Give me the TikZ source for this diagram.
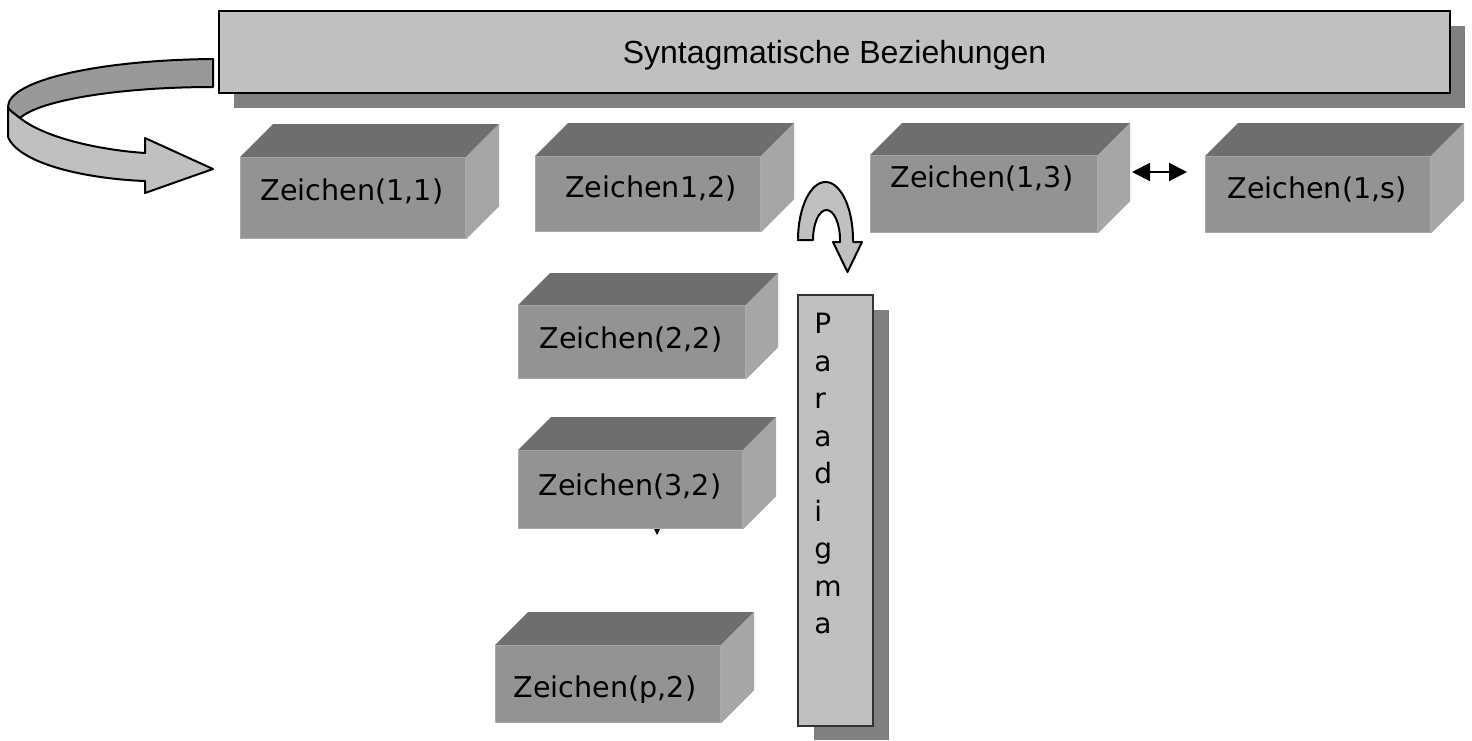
\documentclass[tikz,border=0pt]{standalone}
\usepackage{fontspec}
\newfontfamily\boxfont{DejaVu Sans}
\newfontfamily\banfont{Liberation Sans}
\usetikzlibrary{arrows.meta}
\definecolor{frontc}{HTML}{939393}
\definecolor{topc}{HTML}{6E6E6E}
\definecolor{sidec}{HTML}{A6A6A6}
\definecolor{edgec}{HTML}{ABABAB}
\definecolor{lightc}{HTML}{C0C0C0}
\definecolor{darkc}{HTML}{999999}
\definecolor{shadowc}{HTML}{808080}
\tikzset{
  blockfront/.style={draw=edgec, fill=frontc, line width=0.6pt, inner sep=0pt, rectangle},
  blocktop/.style={fill=topc},
  blockside/.style={fill=sidec},
  boxtext/.style={font=\boxfont\fontsize{14.3}{16}\selectfont, inner sep=0pt, anchor=base},
  banner/.style={draw=black, fill=lightc, line width=1pt, inner sep=0pt, rectangle,
    font=\banfont\fontsize{16}{18}\selectfont, text depth=0pt},
  parabox/.style={draw=black!80, fill=lightc, line width=0.8pt, inner sep=0pt, rectangle},
  shadowfill/.style={fill=shadowc},
  arrowshape/.style={draw=black, line width=1pt, line join=round},
}
\newcommand\zblock[6]{%
  \node[blockfront, minimum width={(#4-#2)*0.5pt}, minimum height={(#5-#3)*0.5pt}, anchor=north west] (#1) at (#2,#3) {};
  \fill[blocktop] (#1.north west) -- ([shift={(#6,-#6)}]#1.north west) -- ([shift={(#6,-#6)}]#1.north east) -- (#1.north east) -- cycle;
  \fill[blockside] (#1.north east) -- ([shift={(#6,-#6)}]#1.north east) -- ([shift={(#6,-#6)}]#1.south east) -- (#1.south east) -- cycle;
}
\begin{document}
\begin{tikzpicture}[x=0.5pt,y=-0.5pt]
\useasboundingbox (0,0) rectangle (1472,740);

% banner
\fill[shadowfill] (234,26) rectangle (1465,108);
\node[banner, minimum width={1231*0.5pt}, minimum height={82*0.5pt}, anchor=north west] (ban) at (218,10) {Syntagmatische Beziehungen};

% curved arrow (left)
\path[arrowshape, fill=lightc] (8,107) -- (8,137)
  .. controls (20,165) and (90,179) .. (145,181)
  -- (145,193) -- (213,169) -- (145,138) -- (145,153)
  .. controls (100,150) and (45,138) .. (20,118)
  .. controls (14,113) and (9,110) .. (8,107) -- cycle;
\path[arrowshape, fill=darkc] (213,59)
  .. controls (100,60) and (8,80) .. (8,107)
  .. controls (9,110) and (14,113) .. (20,118)
  .. controls (40,100) and (120,87) .. (213,87) -- cycle;

% blocks
\zblock{b11}{240}{157}{465}{238}{33}
\zblock{b12}{535}{156}{760}{231}{33}
\zblock{b13}{870}{155}{1097}{232}{32}
\zblock{b1s}{1205}{156}{1430}{232}{33}
\zblock{b22}{518}{305}{745}{378}{32}
\zblock{b32}{518}{450}{742}{528}{33}
\zblock{bp2}{495}{645}{720}{722}{33}

\node[boxtext] (t11) at (352,200) {Zeichen(1,1)};
\node[boxtext] (t12) at (651,197) {Zeichen1,2)};
\node[boxtext] (t13) at (982,187) {Zeichen(1,3)};
\node[boxtext] (t1s) at (1317,198) {Zeichen(1,s)};
\node[boxtext] (t22) at (631,348) {Zeichen(2,2)};
\node[boxtext] (t32) at (630,495) {Zeichen(3,2)};
\node[boxtext] (tp2) at (605,697) {Zeichen(p,2)};

% double arrow
\coordinate (da1) at (1132,172);
\coordinate (da2) at (1187,172);
\draw[line width=1pt, {Triangle[length=9pt,width=9pt]}-{Triangle[length=9pt,width=9pt]}] (da1) -- (da2);

% tiny arrowhead below Zeichen(3,2)
\coordinate (tip) at (657,535);
\fill (654,529) -- (660,529) -- (tip) -- cycle;

% U-turn arrow
\path[arrowshape, fill=lightc] (798,240)
  .. controls (798,208) and (810.3,182) .. (825.5,182)
  .. controls (840.7,182) and (853,208) .. (853,240)
  -- (853,242) -- (862,242) -- (847.5,272) -- (833,242) -- (840,242) -- (840,240)
  .. controls (840,223.4) and (834,210) .. (826.5,210)
  .. controls (819,210) and (813,223.4) .. (813,240) -- cycle;

% Paradigma
\fill[shadowfill] (814,310) rectangle (889,740);
\node[parabox, minimum width={75*0.5pt}, minimum height={431*0.5pt}, anchor=north west] (para) at (797,294) {};
\node[font=\boxfont\fontsize{14}{18.75}\selectfont, align=left, inner sep=0pt, anchor=north west] (ptext) at (814,313) {P\\a\\r\\a\\d\\i\\g\\m\\a};
\end{tikzpicture}
\end{document}
